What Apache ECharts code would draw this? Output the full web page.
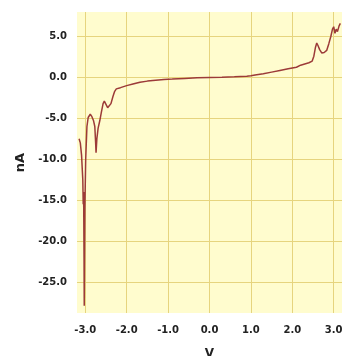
<!DOCTYPE html>
<html>
<head>
<meta charset="utf-8">
<script src="https://cdn.jsdelivr.net/npm/echarts@6/dist/echarts.min.js"></script>
<style>
  html, body { margin: 0; padding: 0; background: #ffffff; }
  #chart { width: 344px; height: 356px; }
</style>
</head>
<body>
<div id="chart"></div>
<script>
// I–V sweep: bias voltage (V) and measured current (nA)
const voltage = [
  -3.15, -3.12, -3.09, -3.06, -3.05, -3.04, -3.03, -3.025, -3.02, -3.01,
  -2.99, -2.96, -2.93, -2.88, -2.84, -2.80, -2.77, -2.75, -2.74, -2.72,
  -2.69, -2.65, -2.61, -2.57, -2.54, -2.50, -2.46, -2.42, -2.38, -2.33,
  -2.29, -2.25, -2.15, -2.00, -1.85, -1.68, -1.50, -1.30, -1.10, -0.90,
  -0.60, -0.30, 0.00, 0.30, 0.60, 0.90, 1.00, 1.10, 1.30, 1.50,
  1.70, 1.90, 2.10, 2.20, 2.30, 2.40, 2.48, 2.52, 2.56, 2.59,
  2.62, 2.66, 2.71, 2.77, 2.83, 2.88, 2.93, 2.97, 3.00, 3.03,
  3.06, 3.09, 3.13, 3.16
];
const current = [
  -7.5, -8.0, -9.5, -12.5, -15.5, -14.0, -22.0, -27.9, -24.0, -16.0,
  -10.0, -6.0, -4.9, -4.5, -4.8, -5.3, -6.0, -8.0, -9.2, -7.5,
  -6.2, -5.3, -4.2, -3.2, -2.9, -3.3, -3.7, -3.9, -3.2, -2.3,
  -1.7, -1.4, -1.25, -1.0, -0.8, -0.6, -0.45, -0.35, -0.25, -0.2,
  -0.12, -0.05, 0.0, 0.03, 0.08, 0.15, 0.2, 0.3, 0.45, 0.65,
  0.85, 1.05, 1.25, 1.5, 1.65, 1.8, 2.0, 2.6, 3.7, 4.2,
  3.9, 3.4, 3.0, 3.05, 3.3, 4.1, 5.0, 5.9, 6.2, 5.4,
  5.9, 5.6, 6.3, 6.6
];
const xTicks = [-3, -2, -1, 0, 1, 2, 3];
const yTicks = [5, 0, -5, -10, -15, -20, -25];

const points = voltage.map((v, i) => [v, current[i]]);

const gridColor = '#e6d47e';
const labelStyle = {
  color: '#222222',
  fontFamily: 'DejaVu Sans',
  fontWeight: 'bold',
  fontSize: 10
};

const chart = echarts.init(document.getElementById('chart'));
chart.setOption({
  animation: false,
  grid: {
    left: 77, right: 2, top: 12, bottom: 43,
    outerBoundsMode: 'none',
    containLabel: false,
    show: true,
    backgroundColor: '#fffcce',
    borderWidth: 0
  },
  xAxis: {
    type: 'value',
    min: -3.2,
    max: 3.2,
    name: 'V',
    nameLocation: 'middle',
    nameGap: 35,
    nameTextStyle: { color: '#222222', fontFamily: 'DejaVu Sans', fontWeight: 'bold', fontSize: 12 },
    axisLine: { show: false },
    axisTick: { show: false, customValues: xTicks },
    axisLabel: Object.assign({
      customValues: xTicks,
      margin: 12,
      formatter: v => v.toFixed(1)
    }, labelStyle),
    splitLine: { show: true, lineStyle: { color: gridColor, width: 1 } }
  },
  yAxis: {
    type: 'value',
    min: -28.8,
    max: 8,
    name: 'nA',
    nameLocation: 'middle',
    nameGap: 50,
    nameRotate: 90,
    nameTextStyle: { color: '#222222', fontFamily: 'DejaVu Sans', fontWeight: 'bold', fontSize: 13 },
    axisLine: { show: false },
    axisTick: { show: false, customValues: yTicks },
    axisLabel: Object.assign({
      customValues: yTicks,
      margin: 10,
      formatter: v => v.toFixed(1)
    }, labelStyle),
    splitLine: { show: true, lineStyle: { color: gridColor, width: 1 } }
  },
  series: [{
    type: 'line',
    data: points,
    showSymbol: false,
    smooth: false,
    lineStyle: { color: '#9c3a38', width: 1.5 }
  }]
});
</script>
</body>
</html>
